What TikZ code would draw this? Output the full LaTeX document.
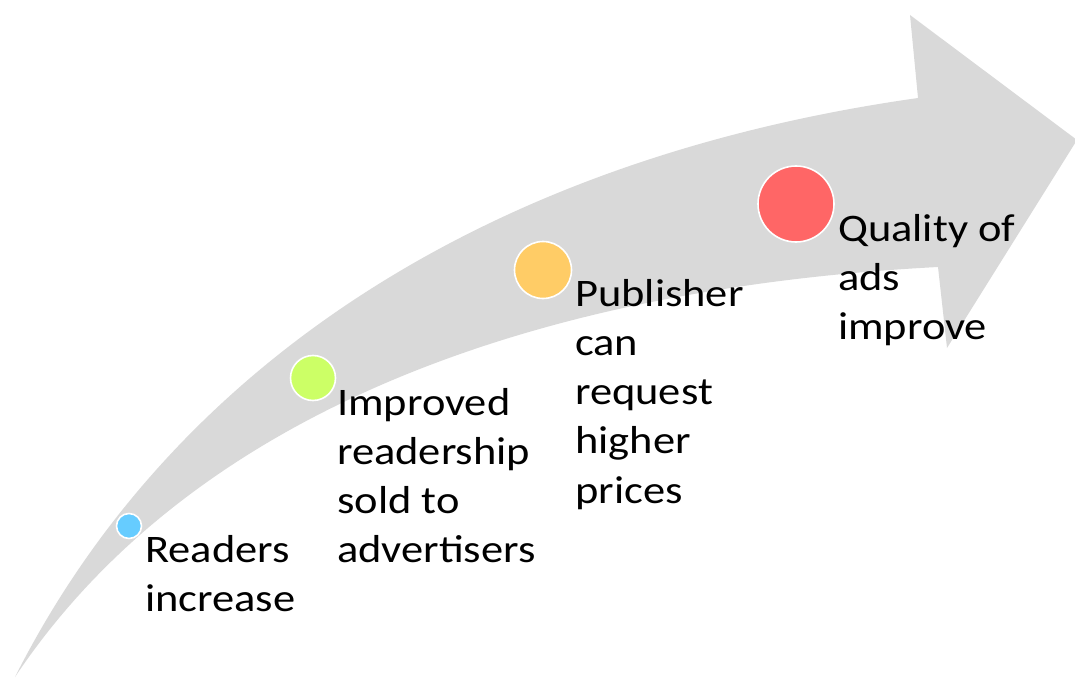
\documentclass[tikz,border=0pt]{standalone}
\usepackage{fontspec}
\setmainfont{Carlito}[FakeStretch=1.14]
\definecolor{band}{HTML}{D9D9D9}
\definecolor{cblue}{HTML}{66CCFF}
\definecolor{cgreen}{HTML}{CCFF66}
\definecolor{corange}{HTML}{FFCC66}
\definecolor{cred}{HTML}{FF6666}
\tikzset{
  dot/.style={circle, draw=white, line width=1.6pt, inner sep=0pt},
  lbl/.style={anchor=base west, align=left, inner sep=0pt, text=black,
    font=\fontsize{39}{49.3}\selectfont}
}
\begin{document}
\begin{tikzpicture}[x=1pt,y=-1pt]
\useasboundingbox (0,0) rectangle (1075,679);
\fill[band] (15,677) .. controls (170,370) and (480,160) .. (918,98)
  -- (910,15) -- (1077,140) -- (947,348) -- (938,267)
  .. controls (500,290) and (180,430) .. cycle;
\node[dot, fill=cblue, minimum size=25pt] (d1) at (129,526) {};
\node[dot, fill=cgreen, minimum size=45pt] (d2) at (313,378) {};
\node[dot, fill=corange, minimum size=57pt] (d3) at (543,270) {};
\node[dot, fill=cred, minimum size=76pt] (d4) at (796,204) {};
% base anchor of a multi-line node is the baseline of its last line
\node[lbl] (t1) at (145,611.3) {Readers\\increase};
\node[lbl] (t2) at (337,562.9) {Improved\\readership\\sold to\\advertisers};
\node[lbl] (t3) at (575,503.2) {Publisher\\can\\request\\higher\\prices};
\node[lbl] (t4) at (838,339.6) {Quality of\\ads\\improve};
\end{tikzpicture}
\end{document}
